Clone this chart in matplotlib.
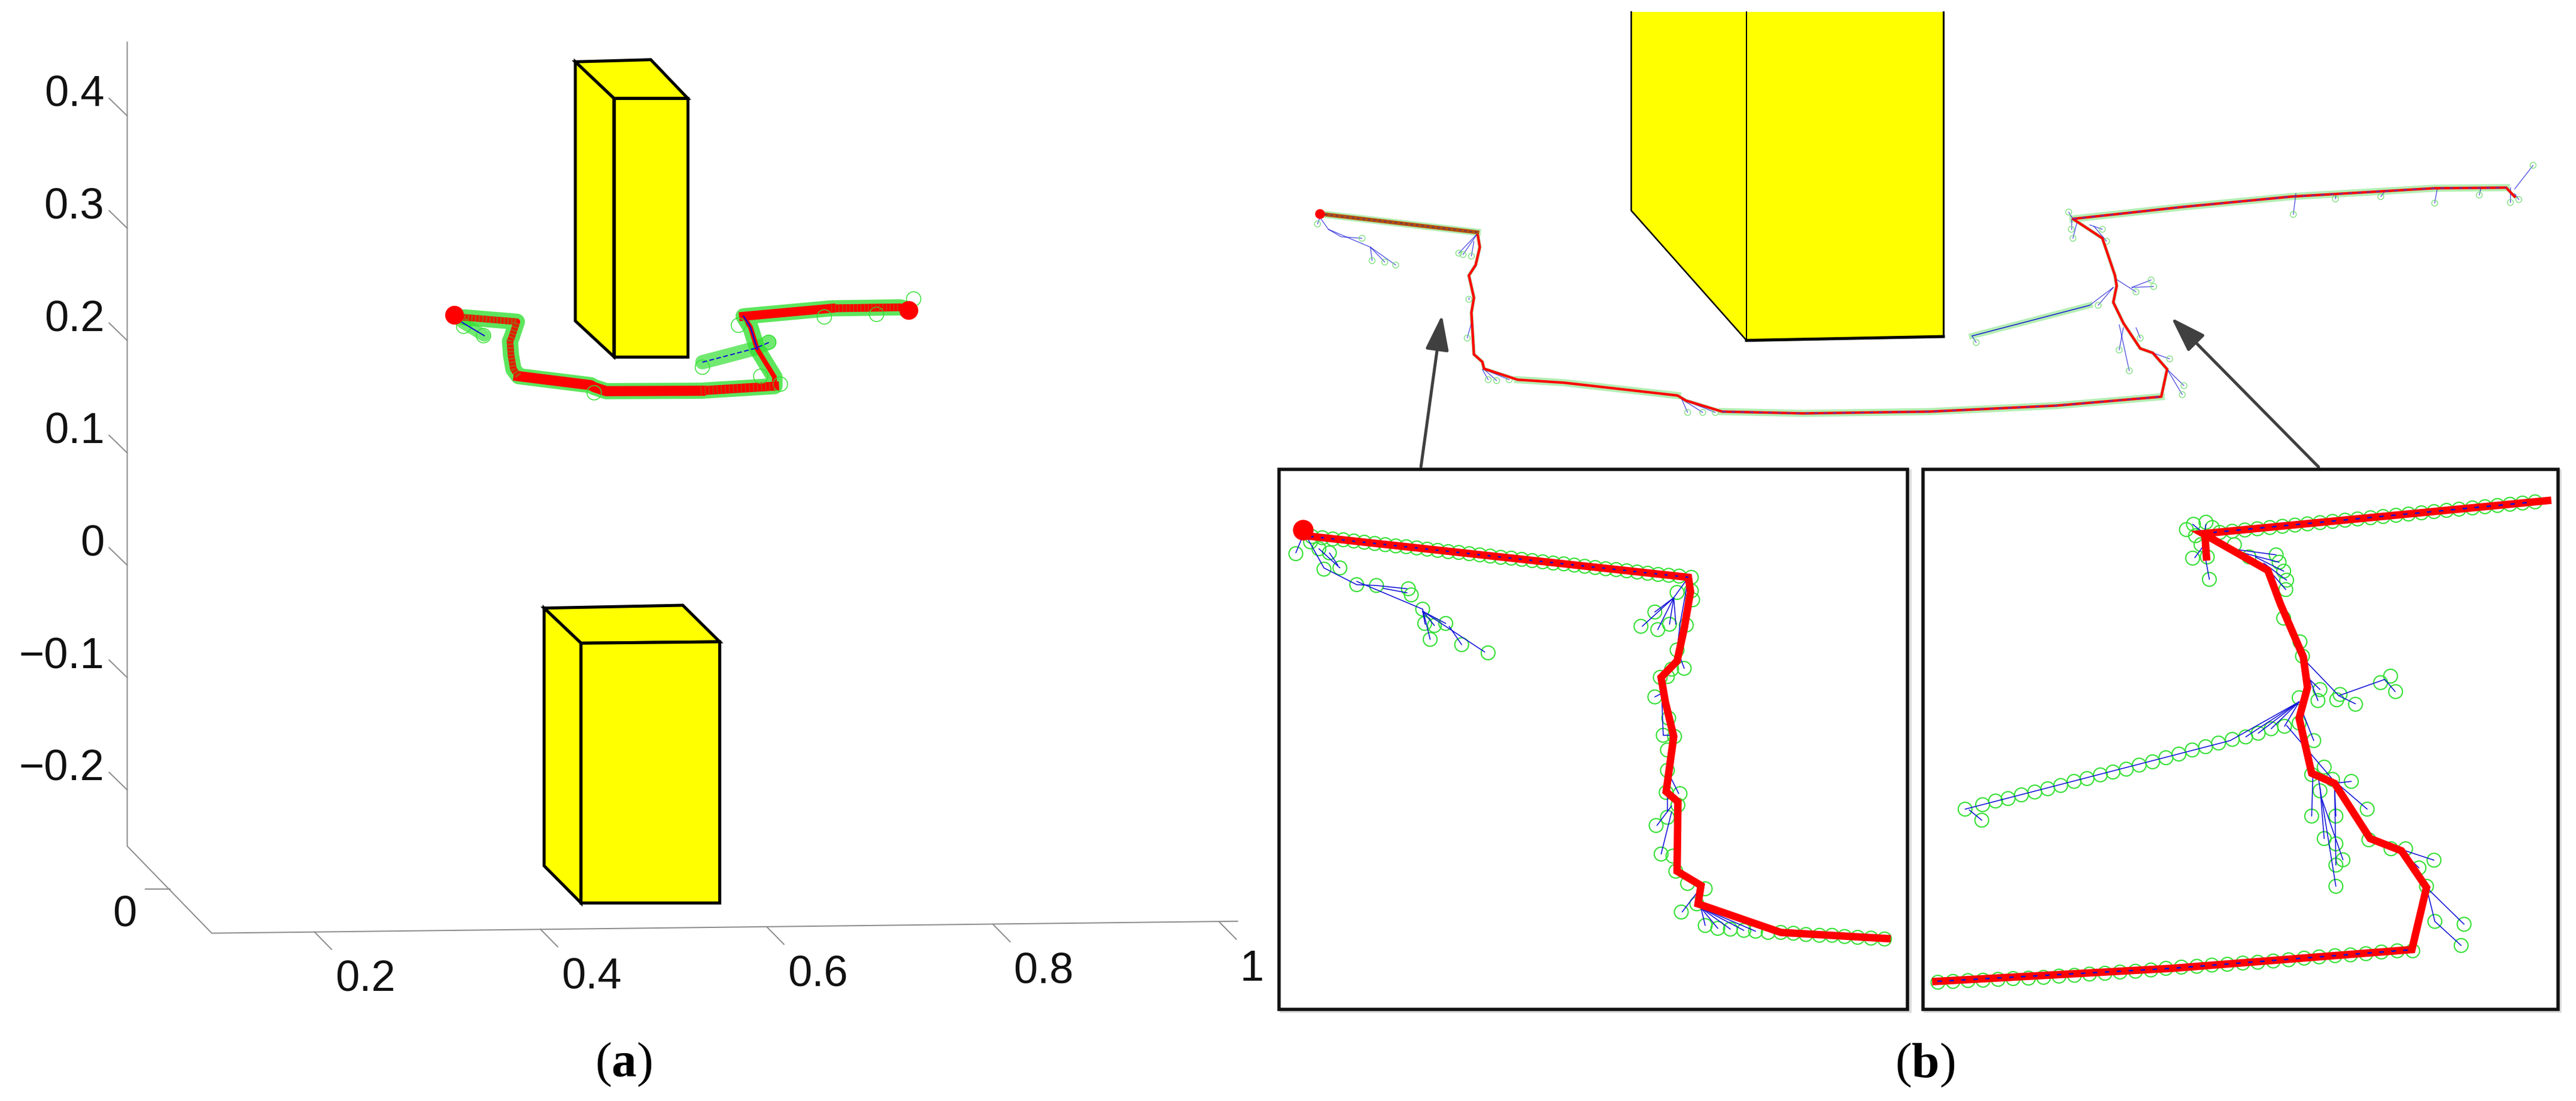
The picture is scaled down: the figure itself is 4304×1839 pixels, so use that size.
import matplotlib
matplotlib.use("Agg")
import matplotlib.pyplot as plt
from matplotlib.patches import Polygon, Rectangle, FancyArrowPatch

W, H = 4304, 1839
plt.rcParams['font.family'] = ['Liberation Sans', 'DejaVu Sans']
plt.rcParams['mathtext.fontset'] = 'custom'
plt.rcParams['mathtext.rm'] = 'Liberation Serif'
plt.rcParams['mathtext.bf'] = 'Liberation Serif:bold'

# ---- panel (a) axis ticks
z_ticks = [0.4, 0.3, 0.2, 0.1, 0.0, -0.1, -0.2]
z_labels = ['0.4', '0.3', '0.2', '0.1', '0', '\u22120.1', '\u22120.2']
x_ticks = [0.2, 0.4, 0.6, 0.8, 1.0]
x_labels = ['0.2', '0.4', '0.6', '0.8', '1']

# ---- panel (a) boxes (read in panel units)
upper_front_x = [748, 838, 838, 748]
upper_front_y = [140, 140, 508, 508]
upper_top_x = [701, 793, 838, 748]
upper_top_y = [88, 85, 140, 140]
upper_side_x = [701, 748, 748, 701]
upper_side_y = [88, 140, 508, 457]
lower_front_x = [708, 877, 877, 708]
lower_front_y = [916, 914, 1286, 1286]
lower_top_x = [663, 832, 877, 708]
lower_top_y = [866, 862, 914, 916]
lower_side_x = [663, 708, 708, 663]
lower_side_y = [866, 916, 1286, 1233]

# ---- panel (a) trajectory, split by how it looks in the picture
a_path_x = [130, 285, 270, 265, 268, 275, 290, 500, 510, 545, 820, 1035, 1035, 985, 965, 945, 1200, 1400, 1425]
a_path_y = [240, 262, 340, 360, 430, 500, 535, 580, 590, 610, 608, 585, 540, 400, 290, 235, 195, 190, 200]
a_brown1_x = [130, 285, 270, 265, 268, 275, 290]
a_brown1_y = [240, 262, 340, 360, 430, 500, 535]
a_solid1_x = [290, 500, 510, 545, 820]
a_solid1_y = [535, 580, 590, 610, 608]
a_mixed_x = [820, 1035]
a_mixed_y = [608, 585]
a_thin_x = [1035, 1035, 985, 965, 945]
a_thin_y = [585, 540, 400, 290, 235]
a_solid2_x = [945, 1200]
a_solid2_y = [235, 195]
a_mixed2_x = [1200, 1400, 1425]
a_mixed2_y = [195, 190, 200]
a_branch1_x = [125, 190]
a_branch1_y = [265, 332]
a_branch2_x = [825, 980, 1020]
a_branch2_y = [465, 395, 365]
a_nodes_x = [188, 130, 1440, 1180, 1332, 1052, 995, 825, 1018, 930, 510]
a_nodes_y = [332, 285, 148, 238, 225, 575, 535, 490, 365, 280, 618]
a_starts_x = [103, 1425]
a_starts_y = [228, 205]

# ---- panel (b) overview
b_front_x = [582, 816, 816, 582]
b_front_y = [40, 40, 1130, 1143]
b_side_x = [445, 582, 582, 445]
b_side_y = [40, 40, 1143, 707]
b_path_x = [75, 262, 265, 260, 252, 258, 255, 258, 268, 270, 310, 365, 500, 510, 553, 650, 800, 950, 1075, 1082,
            1065, 1050, 1030, 1018, 1022, 1020, 1005, 970, 1100, 1230, 1400, 1485, 1495]
b_path_y = [718, 780, 830, 890, 925, 1000, 1050, 1190, 1215, 1238, 1275, 1285, 1328, 1345, 1382, 1388, 1382, 1362, 1332, 1240,
            1185, 1170, 1085, 1015, 960, 925, 800, 735, 695, 660, 632, 630, 660]
b_seg1_x = [75, 262]
b_seg1_y = [718, 780]
b_seg2_x = [310, 365, 500]
b_seg2_y = [1275, 1285, 1328]
b_seg3_x = [553, 650, 800, 950, 1075]
b_seg3_y = [1382, 1388, 1382, 1362, 1332]
b_seg4_x = [970, 1100, 1230, 1400, 1485]
b_seg4_y = [735, 695, 660, 632, 630]
b_twigs = [
    [(75, 730), (85, 770), (100, 795), (125, 800)], [(85, 770), (135, 830), (165, 890)], [(135, 830), (137, 875)],
    [(135, 830), (152, 880)], [(75, 730), (72, 752)],
    [(262, 785), (245, 855)], [(262, 785), (240, 850)], [(258, 810), (255, 860)], [(252, 1000), (252, 1005)],
    [(256, 1075), (250, 1135)], [(268, 1240), (275, 1275)], [(270, 1240), (285, 1278)], [(270, 1240), (300, 1275)],
    [(505, 1340), (512, 1385)], [(505, 1340), (530, 1385)], [(505, 1340), (545, 1385)],
    [(970, 735), (965, 712)], [(968, 735), (968, 770)], [(975, 745), (970, 800)], [(990, 755), (1005, 770)], [(995, 760), (1010, 810)],
    [(1020, 935), (1045, 980)], [(1040, 965), (1063, 940)], [(1040, 965), (1066, 962)],
    [(1018, 965), (990, 1025), (850, 1128), (855, 1150)], [(1018, 965), (1000, 1025)],
    [(1025, 1090), (1037, 1245)], [(1030, 1100), (1025, 1175)], [(1045, 1100), (1050, 1135)], [(1065, 1185), (1085, 1205)],
    [(1082, 1240), (1102, 1295)], [(1082, 1240), (1100, 1325)],
    [(1235, 650), (1232, 720)], [(1283, 648), (1282, 668)], [(1340, 645), (1336, 660)], [(1403, 635), (1400, 682)],
    [(1455, 632), (1453, 655)], [(1490, 630), (1490, 680)], [(1495, 635), (1517, 555)], [(1495, 650), (1500, 670)],
]
b_spur_x = [990, 850]
b_spur_y = [1025, 1128]

# ---- inset 1
i1_path_x = [80, 985, 990, 975, 958, 920, 930, 950, 940, 932, 960, 958, 1015, 1008, 1205, 1458]
i1_path_y = [184, 285, 320, 410, 490, 530, 590, 675, 750, 810, 835, 1005, 1040, 1085, 1155, 1170]
i1_nodes_x = [88, 113, 138, 163, 188, 213, 238, 263, 288, 313, 338, 363, 388, 413, 438, 463, 488, 513, 538, 563, 588, 613, 638, 663,
              688, 713, 738, 763, 788, 813, 838, 863, 888, 913, 938, 963, 992,
              1025, 1055, 1085, 1117, 1145, 1175, 1205, 1235, 1265, 1297, 1327, 1357, 1388, 1420, 1452,
              50, 85, 105, 130, 117, 155, 195, 242, 318, 325, 352, 357, 380, 407, 370, 445, 508,
              992, 995, 958, 905, 872, 912, 940, 980, 958, 975, 945, 935, 918, 905, 938, 925, 952, 935, 935, 932, 965, 960, 935,
              908, 920, 948, 955, 983, 1025, 1005, 968]
i1_nodes_y = [185, 188, 191, 193, 196, 199, 202, 205, 208, 210, 213, 216, 219, 222, 224, 227, 230, 233, 236, 238, 241, 244, 247, 250,
              252, 255, 258, 261, 264, 266, 269, 272, 275, 278, 280, 282, 285,
              1138, 1145, 1147, 1150, 1152, 1155, 1155, 1157, 1160, 1162, 1162, 1165, 1167, 1169, 1171,
              227, 198, 215, 225, 265, 262, 303, 305, 313, 328, 363, 398, 403, 398, 437, 450, 470,
              318, 340, 322, 370, 405, 413, 400, 402, 463, 508, 510, 528, 530, 578, 630, 672, 675, 708, 758, 812, 815, 843, 873,
              893, 963, 968, 1005, 1035, 1048, 1085, 1105]
i1_twigs = [
    [(70, 175), (50, 225)], [(70, 175), (117, 262), (195, 303), (242, 305), (315, 313)], [(105, 215), (155, 262)],
    [(130, 225), (150, 255)], [(195, 295), (352, 363)], [(258, 312), (315, 323)], [(352, 363), (370, 437)],
    [(352, 368), (358, 400)], [(352, 368), (380, 403)], [(352, 368), (500, 468)], [(415, 405), (445, 450)], [(352, 368), (407, 398)],
    [(985, 285), (950, 335), (905, 370)], [(950, 335), (875, 405)], [(950, 335), (912, 413)], [(950, 335), (940, 400)],
    [(950, 335), (955, 400)], [(985, 285), (965, 400), (958, 463)], [(965, 480), (975, 508)], [(990, 290), (975, 400)],
    [(920, 570), (905, 578)], [(922, 590), (925, 672), (950, 672)], [(945, 780), (962, 815)], [(935, 815), (935, 860)],
    [(945, 845), (910, 893)], [(945, 860), (920, 963)], [(958, 850), (955, 990)], [(1015, 1045), (970, 1105)],
    [(1015, 1095), (1025, 1138)], [(1015, 1095), (1055, 1145)], [(1015, 1095), (1085, 1147)], [(1015, 1095), (1117, 1150)],
    [(1015, 1095), (1145, 1152)],
]
i1_dash_x = [85, 985]
i1_dash_y = [185, 285]

# ---- inset 2
i2_path_x = [1500, 675, 830, 860, 915, 925, 905, 935, 990, 1075, 1150, 1210, 1175, 600, 35]
i2_path_y = [97, 178, 268, 350, 480, 555, 630, 765, 790, 925, 955, 1045, 1197, 1243, 1275]
i2_stub_x = [680, 683]
i2_stub_y = [190, 235]
i2_nodes_x = [1470, 1440, 1410, 1380, 1350, 1320, 1288, 1258, 1228, 1198, 1167, 1137, 1106, 1076, 1045, 1015, 985, 955, 925, 895, 865,
              835, 805, 775, 745, 715,
              1177, 1140, 1102, 1065, 1028, 991, 953, 917, 880, 843, 806, 770, 733, 696, 660, 623, 586, 550, 513, 476, 440, 403,
              367, 330, 293, 257, 220, 184, 148, 112, 76, 40,
              105, 147, 178, 208, 240, 272, 303, 334, 366, 397, 429, 459, 491, 522, 554, 586, 617, 649, 681, 712, 745, 777, 807,
              838, 870, 905, 145,
              652, 682, 635, 697, 657, 670, 650, 685, 690, 750, 850, 857, 868, 875, 873, 785, 868, 907, 913, 955, 950, 905, 1003,
              995, 1040, 1100, 1124, 1136, 940, 965, 935, 955, 985, 1030, 1068, 935, 993, 965, 993, 1010, 993, 993, 1072, 1125,
              1160, 1228, 1192, 1210, 1230, 1300, 1293]
i2_nodes_y = [100, 103, 106, 109, 112, 115, 118, 121, 124, 127, 130, 133, 136, 139, 142, 145, 148, 151, 154, 157, 160,
              163, 166, 169, 172, 175,
              1200, 1200, 1203, 1207, 1210, 1212, 1215, 1218, 1222, 1225, 1228, 1230, 1233, 1235, 1238, 1240, 1243, 1247, 1250,
              1252, 1255, 1257, 1260, 1262, 1265, 1267, 1268, 1270, 1272, 1273, 1275, 1277,
              853, 842, 833, 827, 818, 811, 803, 795, 785, 778, 769, 762, 755, 745, 737, 727, 718, 708, 700, 691, 682, 676, 667,
              656, 650, 642, 880,
              155, 150, 168, 163, 183, 205, 238, 235, 290, 205, 230, 248, 270, 292, 315, 235, 385, 443, 478, 560, 587, 580, 572,
              585, 596, 543, 527, 565, 685, 750, 768, 808, 780, 785, 853, 870, 870, 925, 938, 977, 990, 1042, 928, 950,
              950, 978, 997, 1042, 1128, 1135, 1187]
i2_twigs = [
    [(105, 853), (740, 685), (905, 590)], [(905, 590), (777, 676)], [(905, 590), (807, 667)], [(905, 590), (838, 656)],
    [(905, 590), (870, 650)], [(145, 880), (115, 855)], [(650, 155), (680, 180)], [(682, 155), (678, 178)],
    [(655, 237), (678, 205)], [(680, 235), (690, 290)], [(740, 215), (850, 230)], [(770, 225), (857, 248)], [(800, 235), (868, 270)],
    [(820, 250), (875, 292)], [(835, 270), (873, 315)], [(870, 385), (905, 445)], [(925, 495), (1000, 575), (1110, 535), (1135, 565)],
    [(925, 520), (950, 587)], [(925, 530), (955, 560)], [(1000, 575), (1040, 595)], [(915, 620), (940, 685)],
    [(875, 648), (985, 780), (1068, 853)], [(985, 790), (1030, 785)], [(938, 770), (935, 870)], [(950, 770), (993, 1042)],
    [(955, 800), (965, 925)], [(960, 830), (1010, 977)], [(990, 800), (993, 990)], [(990, 800), (993, 870)],
    [(1085, 930), (1228, 978)], [(1150, 955), (1192, 997)], [(1210, 1045), (1300, 1135)], [(1210, 1045), (1230, 1128), (1293, 1187)],
]
i2_dash_top_x = [1450, 700]
i2_dash_top_y = [102, 175]
i2_dash_low_x = [1165, 600, 35]
i2_dash_low_y = [1198, 1243, 1275]

YELLOW = '#FFFF00'
RED = '#FF0000'
GREEN = '#35E035'
BLUE = '#1010D8'
BROWN = '#B4500F'
HALO = '#B4EEB4'


def pt(px):
    return px * 0.72


fig = plt.figure(figsize=(W / 100, H / 100), dpi=100, facecolor='white')


def region(x, y, w, h, units_h=1568):
    ax = fig.add_axes([x / W, 1 - (y + h) / H, w / W, h / H])
    ax.set_xlim(0, 1568)
    ax.set_ylim(units_h, 0)
    ax.axis('off')
    return ax


def twigs(ax, segs, lw, alpha=1.0):
    for seg in segs:
        ax.plot([p[0] for p in seg], [p[1] for p in seg], color=BLUE, lw=pt(lw), alpha=alpha,
                solid_capstyle='round', zorder=3)


# ================= panel (a)
a = region(0, 0, 2150, 1839)
gray = '#8c8c8c'
a.plot([155, 155, 258, 1508], [60, 1205, 1329, 1312], color=gray, lw=pt(2), zorder=1)
for v, lab in zip(z_ticks, z_labels):
    y = 805 - v * 1600
    a.plot([155, 133], [y, y - 25], color=gray, lw=pt(2))
    a.text(127, y - 30, lab, ha='right', va='center', fontsize=52, color='#111111')
for v, lab in zip(x_ticks, x_labels):
    x = 383 + (v - 0.2) * 1378
    y = 1327 - (v - 0.2) * 18
    a.plot([x, x + 21], [y, y + 25], color=gray, lw=pt(2))
    tx = x + 62 if v < 1 else x + 40
    a.text(tx, y + 68, lab, ha='center', va='center', fontsize=52, color='#111111')
a.plot([177, 207], [1266, 1266], color=gray, lw=pt(2))
a.text(152, 1303, '0', ha='center', va='center', fontsize=52, color='#111111')

for xs, ys in [(upper_top_x, upper_top_y), (upper_side_x, upper_side_y), (upper_front_x, upper_front_y),
               (lower_top_x, lower_top_y), (lower_side_x, lower_side_y), (lower_front_x, lower_front_y)]:
    a.add_patch(Polygon(list(zip(xs, ys)), closed=True, fc=YELLOW, ec='black', lw=pt(5), joinstyle='miter', zorder=2))

t = region(700, 450, 900, 300, units_h=900)
t.plot(a_path_x, a_path_y, color=GREEN, lw=pt(27), alpha=0.8, solid_capstyle='round', zorder=2)
t.plot(a_branch1_x, a_branch1_y, color=GREEN, lw=pt(20), alpha=0.7, solid_capstyle='round', zorder=2)
t.plot(a_branch2_x, a_branch2_y, color=GREEN, lw=pt(24), alpha=0.7, solid_capstyle='round', zorder=2)
t.plot(a_brown1_x, a_brown1_y, color=RED, lw=pt(11), zorder=3)
t.plot(a_brown1_x, a_brown1_y, color=BROWN, lw=pt(11), ls=(0, (0.35, 0.2)), zorder=4)
t.plot(a_solid1_x, a_solid1_y, color=RED, lw=pt(17), zorder=3)
t.plot(a_mixed_x, a_mixed_y, color=RED, lw=pt(15), zorder=3)
t.plot(a_mixed_x, a_mixed_y, color=BROWN, lw=pt(15), ls=(0, (0.1, 0.35)), zorder=4)
t.plot(a_thin_x, a_thin_y, color=RED, lw=pt(8), zorder=3)
t.plot(a_thin_x[2:], a_thin_y[2:], color=BLUE, lw=pt(2.5), zorder=4)
t.plot(a_solid2_x, a_solid2_y, color=RED, lw=pt(15), zorder=3)
t.plot(a_mixed2_x, a_mixed2_y, color=RED, lw=pt(13), zorder=3)
t.plot(a_mixed2_x, a_mixed2_y, color=BROWN, lw=pt(13), ls=(0, (0.12, 0.35)), zorder=4)
t.plot(a_branch1_x, a_branch1_y, color=BLUE, lw=pt(2), zorder=4)
t.plot(a_branch2_x, a_branch2_y, color=BLUE, lw=pt(2), ls=(0, (4, 2)), zorder=4)
t.scatter(a_nodes_x, a_nodes_y, s=pt(24) ** 2, facecolors='none', edgecolors=GREEN, linewidths=pt(1.5), zorder=3)
t.scatter(a_starts_x, a_starts_y, s=pt(30) ** 2, color=RED, zorder=5)

a.text(760, 1516, r'$\mathrm{(}\mathbf{a}\mathrm{)}$', ha='center', va='center', fontsize=60)

# ================= panel (b) overview
b = region(2100, 0, 2204, 780)
for xs, ys in [(b_side_x, b_side_y), (b_front_x, b_front_y)]:
    b.add_patch(Polygon(list(zip(xs, ys)), closed=True, fc=YELLOW, ec='none', zorder=1))
b.plot([445, 445, 582], [40, 707, 1143], color='black', lw=pt(2.5), zorder=2)
b.plot([582, 582], [40, 1143], color='black', lw=pt(2), zorder=2)
b.plot([816, 816], [40, 1130], color='black', lw=pt(3), zorder=2)
b.plot([582, 816], [1143, 1130], color='black', lw=pt(5), zorder=2)
b.plot(b_path_x, b_path_y, color=HALO, lw=pt(6), zorder=2)
for xs, ys in [(b_seg1_x, b_seg1_y), (b_seg2_x, b_seg2_y), (b_seg3_x, b_seg3_y), (b_seg4_x, b_seg4_y)]:
    b.plot(xs, ys, color=HALO, lw=pt(12), zorder=2)
twigs(b, b_twigs, 1.3, alpha=0.75)
b.plot(b_path_x, b_path_y, color=RED, lw=pt(4.2), zorder=4)
b.plot(b_seg1_x, b_seg1_y, color=BROWN, lw=pt(6.5), zorder=5)
b.plot(b_seg1_x, b_seg1_y, color='#503070', lw=pt(2), ls=(0, (1.5, 3)), zorder=6)
for xs, ys in [(b_seg3_x, b_seg3_y), (b_seg4_x, b_seg4_y)]:
    b.plot(xs, ys, color='#7030A0', lw=pt(2.2), ls=(0, (3, 4)), zorder=6)
b.scatter([75], [718], s=pt(15) ** 2, color=RED, zorder=7)
b.scatter([s[-1][0] for s in b_twigs], [s[-1][1] for s in b_twigs], s=pt(10) ** 2, facecolors='none',
          edgecolors='#70DC70', linewidths=pt(1.2), zorder=3)
b.plot(b_spur_x, b_spur_y, color=HALO, lw=pt(10), zorder=2)
b.plot(b_spur_x, b_spur_y, color=BLUE, lw=pt(1.4), alpha=0.8, zorder=3)
for start, tip in [((195, 1568), (220, 1058)), ((1262, 1568), (1087, 1067))]:
    b.add_patch(FancyArrowPatch(start, tip, arrowstyle='-|>,head_length=3.6,head_width=1.2', mutation_scale=10,
                                shrinkA=0, shrinkB=0, lw=pt(5), color='#404040', clip_on=False, zorder=6))

fig.text(3216 / W, 1 - 1779 / H, r'$\mathrm{(}\mathbf{b}\mathrm{)}$', ha='center', va='center', fontsize=60)

# ================= inset 1
i1 = region(2130, 770, 1100, 1069)
i1.add_patch(Rectangle((15, 25), 1497, 1323, fc='none', ec='#dddddd', lw=pt(6), zorder=1))
i1.add_patch(Rectangle((10, 20), 1497, 1323, fc='white', ec='#111111', lw=pt(5.5), zorder=1))
i1.scatter(i1_nodes_x, i1_nodes_y, s=pt(23) ** 2, facecolors='none', edgecolors=GREEN, linewidths=pt(2.1), zorder=2)
twigs(i1, i1_twigs, 1.6)
i1.plot(i1_path_x, i1_path_y, color=RED, lw=pt(12.5), solid_joinstyle='miter', zorder=4)
i1.plot(i1_dash_x, i1_dash_y, color=BLUE, lw=pt(2.5), ls=(0, (2, 5)), zorder=5)
i1.scatter([67], [168], s=pt(33) ** 2, color=RED, zorder=6)

# ================= inset 2
i2 = region(3210, 770, 1094, 1069)
i2.add_patch(Rectangle((10, 25), 1520, 1323, fc='none', ec='#dddddd', lw=pt(6), zorder=1))
i2.add_patch(Rectangle((5, 20), 1520, 1323, fc='white', ec='#111111', lw=pt(5.5), zorder=1))
i2.scatter(i2_nodes_x, i2_nodes_y, s=pt(23) ** 2, facecolors='none', edgecolors=GREEN, linewidths=pt(2.1), zorder=2)
twigs(i2, i2_twigs, 1.6)
i2.plot(i2_path_x, i2_path_y, color=RED, lw=pt(12.5), solid_joinstyle='miter', zorder=4)
i2.plot(i2_stub_x, i2_stub_y, color=RED, lw=pt(12.5), zorder=4)
i2.plot(i2_dash_top_x, i2_dash_top_y, color=BLUE, lw=pt(2.5), ls=(0, (3, 5)), zorder=5)
i2.plot(i2_dash_low_x, i2_dash_low_y, color=BLUE, lw=pt(2.5), ls=(0, (3, 5)), zorder=5)

fig.savefig('out.png', dpi=100, facecolor='white')
